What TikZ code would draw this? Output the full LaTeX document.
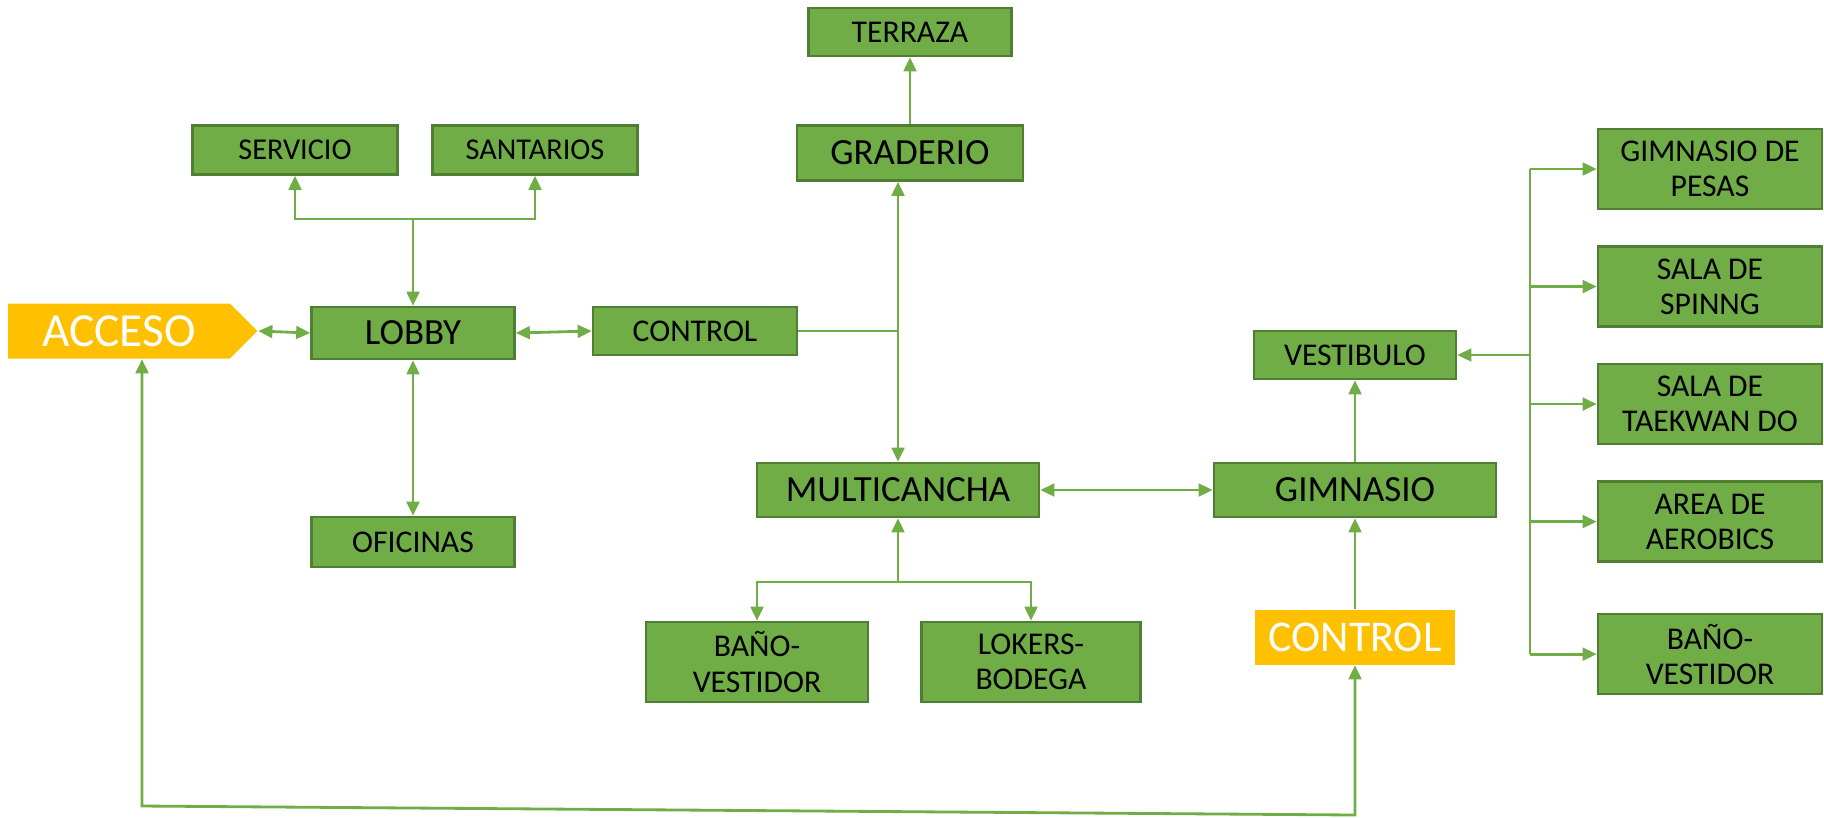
\documentclass[tikz,border=0pt]{standalone}
\usepackage{fontspec}
\setmainfont{Carlito}
\usepackage{tikz}
\usepackage{xcolor}
\usetikzlibrary{arrows.meta,positioning,shapes.symbols}
\definecolor{roomgreen}{RGB}{112,173,71}
\definecolor{roomedge}{RGB}{80,126,50}
\definecolor{doorgold}{RGB}{255,192,0}
\newcommand{\bigname}[1]{{\fontsize{10.5}{11}\selectfont #1}}

\begin{document}
\begin{tikzpicture}[x=0.01cm, y=-0.01cm, node distance=0.35cm,
        room/.style={rectangle,draw=roomedge,fill=roomgreen,line width=0.7pt,
          minimum width=2.03cm,minimum height=0.48cm,align=center,inner sep=1pt,
          font=\fontsize{9}{10}\selectfont},
        sala/.style={room,minimum width=2.24cm,minimum height=0.8cm},
        door/.style={fill=doorgold,text=white,align=center,inner sep=1pt,
          font=\fontsize{12.5}{13}\selectfont},
        link/.style={draw=roomgreen,line width=0.8pt,-{Triangle[length=4pt,width=3.6pt]}},
        both/.style={link,{Triangle[length=4pt,width=3.6pt]}-{Triangle[length=4pt,width=3.6pt]}},
        plain/.style={draw=roomgreen,line width=0.8pt}]
  \useasboundingbox (0,0) rectangle (1824,817);

  \node[door,shape=signal,signal to=east,signal pointer angle=90,
        minimum width=2.49cm,minimum height=0.55cm,font=\fontsize{13.5}{14}\selectfont] (acceso) at (119,331) {ACCESO};
  \node[room,minimum height=0.52cm] (lobby) at (413,333) {\bigname{LOBBY}};
  \node[room,minimum width=2.05cm,minimum height=0.49cm,font=\fontsize{8.6}{9}\selectfont] (servicio) at (295,150) {SERVICIO};
  \node[room,minimum width=2.05cm,minimum height=0.49cm,font=\fontsize{8.6}{9}\selectfont] (santarios) at (535,150) {SANTARIOS};
  \node[room,minimum width=2.04cm] (control) at (695,331) {CONTROL};
  \node[room,minimum height=0.5cm] (oficinas) at (413,542) {OFICINAS};
  \node[room] (terraza) at (910,32) {TERRAZA};
  \node[room,minimum width=2.26cm,minimum height=0.55cm] (graderio) at (910,153) {\bigname{GRADERIO}};
  \node[room,minimum width=2.82cm,minimum height=0.54cm] (multicancha) at (898,490) {\bigname{MULTICANCHA}};
  \node[room,minimum width=2.22cm,minimum height=0.8cm] (banovest) at (757,662) {BAÑO-\\VESTIDOR};
  \node[room,minimum width=2.19cm,minimum height=0.8cm] (lokers) at (1031,662) {LOKERS-\\BODEGA};
  \node[room,minimum width=2.82cm,minimum height=0.54cm] (gimnasio) at (1355,490) {\bigname{GIMNASIO}};
  \node[room,minimum width=2.02cm] (vestibulo) at (1355,355) {VESTIBULO};
  \node[door,minimum width=1.99cm,minimum height=0.55cm] (control2) at (1355,637) {CONTROL};

  \node[sala] (pesas) at (1710,169) {GIMNASIO DE\\PESAS};
  \node[sala,below=of pesas] (spinng) {SALA DE\\SPINNG};
  \node[sala,below=of spinng] (taekwan) {SALA DE\\TAEKWAN DO};
  \node[sala,below=of taekwan] (aerobics) {AREA DE\\AEROBICS};
  \node[sala,below=0.5cm of aerobics] (banogym) {BAÑO-\\VESTIDOR};

  \coordinate (lobbyhub) at (413,219);
  \coordinate (canchahub) at (898,582);
  \coordinate (gymhub) at (1530,355);
  \coordinate (loopleft) at (142,806);
  \coordinate (loopright) at (1355,815);

  \draw[both] (acceso.east) -- (lobby.west);
  \draw[both] (lobby.east) -- (control.west);
  \draw[both] (lobby.south) -- (oficinas.north);
  \draw[link] (lobbyhub) -- (lobby.north);
  \draw[link] (lobbyhub) -| (servicio.south);
  \draw[link] (lobbyhub) -| (santarios.south);
  \draw[plain] (control.east) -- (multicancha.north |- control.east);
  \draw[both] (multicancha.north) -- (multicancha.north |- graderio.south);
  \draw[link] (graderio.north) -- (terraza.south);
  \draw[link] (canchahub) -- (multicancha.south);
  \draw[link] (canchahub) -| (banovest.north);
  \draw[link] (canchahub) -| (lokers.north);
  \draw[both] (multicancha.east) -- (gimnasio.west);
  \draw[link] (gimnasio.north) -- (vestibulo.south);
  \draw[link] (control2.north) -- (gimnasio.south);
  \draw[link] (gymhub) -- (vestibulo.east);
  \draw[plain] (gymhub |- pesas.west) -- (gymhub |- banogym.west);
  \foreach \sala in {pesas,spinng,taekwan,aerobics,banogym}
    \draw[link] (gymhub |- \sala.west) -- (\sala.west);
  \draw[both] (acceso.south -| loopleft) -- (loopleft) -- (loopright) -- (control2.south);
\end{tikzpicture}
\end{document}
